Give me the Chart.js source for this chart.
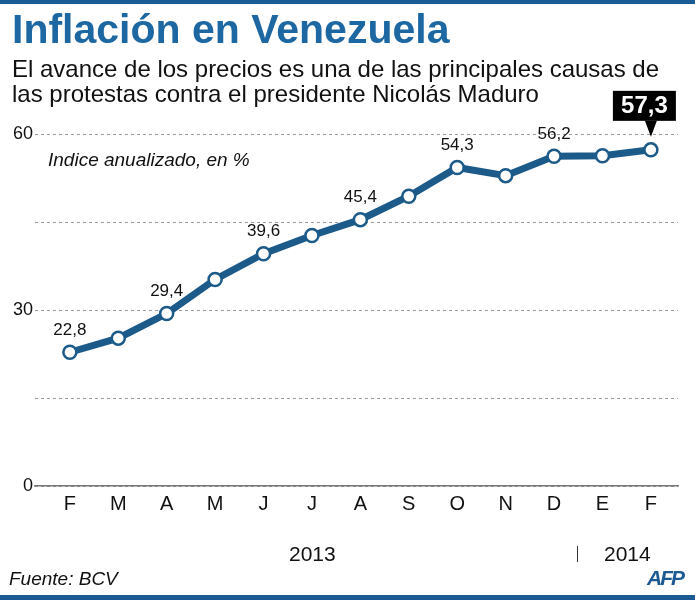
<!DOCTYPE html>
<html>
<head>
<meta charset="utf-8">
<script src="https://cdn.jsdelivr.net/npm/chart.js@4"></script>
<style>
  body { margin: 0; background: #fff; }
  #wrap { position: relative; width: 695px; height: 600px; overflow: hidden; font-family: "Liberation Sans", Arial, sans-serif; }
  #grafico { position: absolute; left: 0; top: 0; }
  .txt { position: absolute; white-space: nowrap; color: #111; }
  #barraTop { position: absolute; left: 0; top: 0; width: 695px; height: 4px; background: #1c5a94; }
  #barraBot { position: absolute; left: 0; top: 595px; width: 695px; height: 5px; background: #1c5a94; }
</style>
</head>
<body>
<div id="wrap">
  <canvas id="grafico" width="695" height="600"></canvas>
  <div id="barraTop"></div>
  <div class="txt" style="left:12px; top:6px; font-size:41px; font-weight:bold; color:#1d67a3;">Inflación en Venezuela</div>
  <div class="txt" style="left:12px; top:56px; font-size:24px; line-height:25px;">El avance de los precios es una de las principales causas de<br>las protestas contra el presidente Nicolás Maduro</div>
  <div class="txt" style="left:48px; top:149px; font-size:19px; font-style:italic;">Indice anualizado, en %</div>
  <div class="txt" style="left:289px; top:542px; font-size:21px;">2013</div>
  <div class="txt" style="left:577px; top:546px; width:1px; height:16px; background:#333;"></div>
  <div class="txt" style="left:604px; top:542px; font-size:21px;">2014</div>
  <div class="txt" style="left:9px; top:568px; font-size:19px; font-style:italic;">Fuente: BCV</div>
  <div class="txt" style="left:647px; top:566px; font-size:21px; font-weight:bold; font-style:italic; color:#1d5a94; letter-spacing:-2px;">AFP</div>
  <div id="barraBot"></div>
</div>
<script>
var meses = ['F', 'M', 'A', 'M', 'J', 'J', 'A', 'S', 'O', 'N', 'D', 'E', 'F'];
var inflacion = [22.8, 25.2, 29.4, 35.2, 39.6, 42.7, 45.4, 49.4, 54.3, 52.9, 56.2, 56.3, 57.3];
var indicesRotulados = [0, 2, 4, 6, 8, 10];
var indiceDestacado = 12;
var ticksY = [0, 30, 60];

var corLinha = '#1c5a8a';

function formatar(v) {
    return v.toFixed(1).replace('.', ',');
}

var rotulos = {
    id: 'rotulos',
    afterDatasetsDraw: function(chart) {
        var ctx = chart.ctx;
        var pontos = chart.getDatasetMeta(0).data;
        ctx.save();
        ctx.textAlign = 'center';
        ctx.textBaseline = 'middle';
        ctx.fillStyle = '#111';
        ctx.font = '17px "Liberation Sans", Arial, sans-serif';
        indicesRotulados.forEach(function(i) {
            ctx.fillText(formatar(inflacion[i]), pontos[i].x, pontos[i].y - 22);
        });

        // caixa preta do ultimo valor
        var p = pontos[indiceDestacado];
        var bx = p.x - 38, by = p.y - 59, bw = 63, bh = 30;
        ctx.fillStyle = '#000';
        ctx.fillRect(bx, by, bw, bh);
        ctx.beginPath();
        ctx.moveTo(p.x - 6, by + bh);
        ctx.lineTo(p.x + 6, by + bh);
        ctx.lineTo(p.x, p.y - 13);
        ctx.closePath();
        ctx.fill();
        ctx.fillStyle = '#fff';
        ctx.font = 'bold 24px "Liberation Sans", Arial, sans-serif';
        ctx.fillText(formatar(inflacion[indiceDestacado]), bx + bw / 2, by + bh / 2 + 1);
        ctx.restore();
    }
};

var dados = inflacion.map(function(v, i) { return { x: i, y: v }; });

new Chart(document.getElementById('grafico'), {
    type: 'line',
    data: {
        datasets: [{
            data: dados,
            borderColor: corLinha,
            borderWidth: 7,
            pointRadius: 6.5,
            pointBorderWidth: 2.5,
            pointBackgroundColor: '#fff',
            pointBorderColor: corLinha,
            tension: 0
        }]
    },
    options: {
        responsive: false,
        animation: false,
        layout: { padding: { left: 0, right: 17, top: 134, bottom: 84 } },
        plugins: { legend: { display: false }, tooltip: { enabled: false } },
        scales: {
            x: {
                type: 'linear',
                min: -0.72,
                max: 12.56,
                afterFit: function(scale) { scale.height = 30; },
                grid: { display: false, tickLength: 6 },
                border: { display: true, color: '#777', width: 1.5 },
                afterBuildTicks: function(scale) {
                    scale.ticks = meses.map(function(m, i) { return { value: i }; });
                },
                ticks: {
                    color: '#111',
                    font: { size: 20, family: '"Liberation Sans", Arial, sans-serif' },
                    padding: 0,
                    maxRotation: 0,
                    autoSkip: false,
                    callback: function(value) { return meses[value]; }
                }
            },
            y: {
                min: 0,
                max: 60,
                afterFit: function(scale) { scale.width = 35; },
                ticks: {
                    stepSize: 15,
                    color: '#111',
                    padding: 2,
                    font: { size: 18, family: '"Liberation Sans", Arial, sans-serif' },
                    callback: function(value) { return ticksY.indexOf(value) >= 0 ? value : ''; }
                },
                grid: { color: '#999', lineWidth: 1, drawTicks: false },
                border: { display: false, dash: [3, 3] }
            }
        }
    },
    plugins: [rotulos]
});
</script>
</body>
</html>
